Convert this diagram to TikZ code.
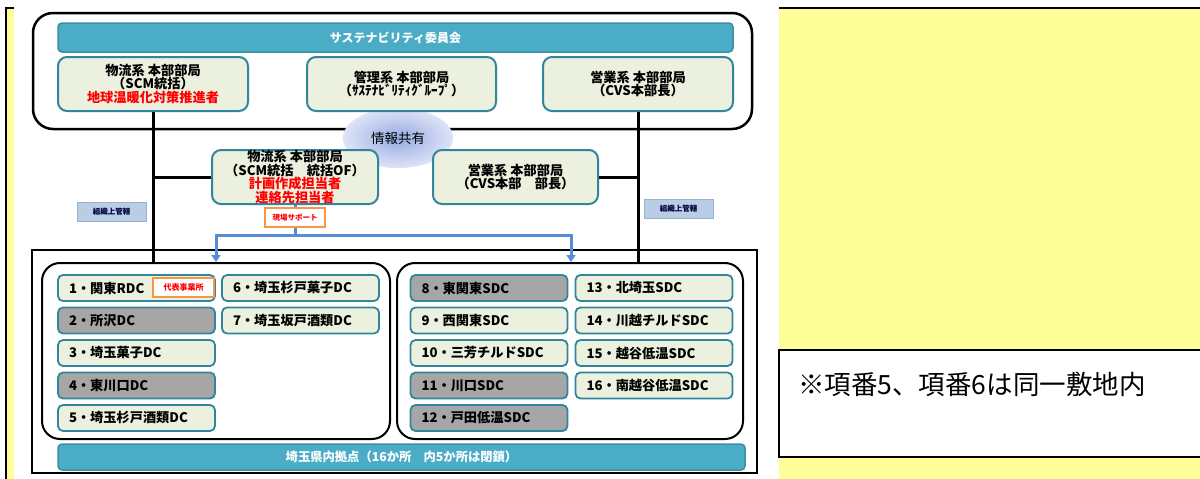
\documentclass[tikz,border=0pt]{standalone}
\usepackage{fontspec}
\setmainfont{Noto Sans CJK JP}
\usetikzlibrary{shapes.geometric,arrows.meta}
\definecolor{barteal}{HTML}{4BACC6}
\definecolor{bartealdk}{HTML}{3A8FA6}
\definecolor{boxfill}{HTML}{EBF1DE}
\definecolor{boxline}{HTML}{31859C}
\definecolor{closedgray}{HTML}{A6A6A6}
\definecolor{suparrow}{HTML}{558ED5}
\definecolor{orgfill}{HTML}{B9CDE5}
\definecolor{orgline}{HTML}{95B3D7}
\definecolor{tagorange}{HTML}{F79646}
\definecolor{noteyellow}{HTML}{FFFF99}
\begin{document}
\begin{tikzpicture}[
x=1pt,y=-1pt,
bar/.style={draw=bartealdk,fill=barteal,line width=1.5pt,rounded corners=4pt,inner sep=0pt,text=white,font=\fontsize{12}{12}\selectfont\bfseries},
dept/.style={draw=boxline,fill=boxfill,line width=2pt,rounded corners=9pt,inner sep=0pt,align=center,minimum height=54pt,font=\fontsize{13.2}{11.8}\selectfont\bfseries},
site/.style={draw=boxline,fill=boxfill,line width=1.8pt,rounded corners=5pt,minimum height=26pt,inner xsep=11pt,inner ysep=0pt,text width=135pt,align=left,font=\fontsize{13.2}{13}\selectfont\bfseries},
closed/.style={site,fill=closedgray},
kanri/.style={draw=orgline,fill=orgfill,line width=1pt,minimum width=69pt,minimum height=19pt,inner sep=0pt,text=black!75!blue,font=\fontsize{7.5}{8}\selectfont\bfseries},
tag/.style={draw=tagorange,fill=white,line width=1.5pt,minimum height=19pt,inner sep=0pt,text=red,font=\fontsize{7.5}{8}\selectfont\bfseries},
group/.style={draw,line width=2pt,rounded corners=18pt,inner sep=0pt},
org/.style={line width=3pt},
sup/.style={draw=suparrow,line width=3pt}
]
\useasboundingbox (0,0) rectangle (1200,479);
% background
\fill[noteyellow] (6,8) rectangle (1200,479);
\draw[line width=1.5pt] (1200,8) -- (6,8) -- (6,479);
\fill[white] (14,0) rectangle (779,479);
\draw[line width=2.5pt,fill=white] (779,350) rectangle (1204,457);
\node[anchor=west,inner sep=0pt,font=\fontsize{26.5}{27}\selectfont] (note) at (798,384) {※項番5、項番6は同一敷地内};

% upper frame
\draw[line width=2.5pt,rounded corners=20pt] (33,13) rectangle (752,129);
% lower frame
\draw[line width=1.5pt] (32,250) rectangle (757,473);
\node[group,minimum width=348pt,minimum height=176pt] (leftgrp) at (216,351) {};
\node[group,minimum width=346pt,minimum height=176pt] (rightgrp) at (570,351) {};

\node[ellipse,minimum width=110pt,minimum height=60pt,inner color={rgb,255:red,150;green,170;blue,225},outer color={rgb,255:red,222;green,228;blue,247},font=\fontsize{13.5}{14}\selectfont] (share) at (398,138) {情報共有};

\node[bar,minimum width=675pt,minimum height=29pt] (iinkai) at (395.5,37.5) {サステナビリティ委員会};
\node[dept,minimum width=190pt] (logitop) at (153,84) {物流系 本部部局\\（SCM統括）\\\textcolor{red}{地球温暖化対策推進者}};
\node[dept,minimum width=189pt] (kanritop) at (401.5,84) {管理系 本部部局\\（ｻｽﾃﾅﾋﾞﾘﾃｨｸﾞﾙｰﾌﾟ）};
\node[dept,minimum width=190pt] (eigyotop) at (638,84) {営業系 本部部局\\（CVS本部長）};
\node[dept,minimum width=166pt] (logimid) at (295,177) {物流系 本部部局\\（SCM統括　統括OF）\\\textcolor{red}{計画作成担当者}\\\textcolor{red}{連絡先担当者}};
\node[dept,minimum width=165pt] (eigyomid) at (515.5,177) {営業系 本部部局\\（CVS本部　部長）};

\draw[org] (logitop.south) -- (logitop.south |- leftgrp.north);
\draw[org] (logimid.west) -- (logimid.west -| logitop.south);
\draw[org] (eigyotop.south) -- (eigyotop.south |- rightgrp.north);
\draw[org] (eigyomid.east) -- (eigyomid.east -| eigyotop.south);
\node[kanri] (kanriL) at (111.5,211.5) {組織上管轄};
\node[kanri] (kanriR) at (678.5,208.5) {組織上管轄};

% support arrows
\coordinate (split) at (295,235);
\coordinate (arrL) at (216,262);
\coordinate (arrR) at (571,262);
\draw[sup] (logimid.south) -- (split);
\draw[sup,-{Triangle[width=9pt,length=7pt]}] (split) -| (arrL);
\draw[sup,-{Triangle[width=9pt,length=7pt]}] (split) -| (arrR);
\node[tag,minimum width=60pt] (genba) at (295,217.5) {現場サポート};

% sites
\node[site] (s1) at (136.5,288) {1・関東RDC};
\node[closed] (s2) at (136.5,320.5) {2・所沢DC};
\node[site] (s3) at (136.5,353) {3・埼玉菓子DC};
\node[closed] (s4) at (136.5,385.5) {4・東川口DC};
\node[site] (s5) at (136.5,418) {5・埼玉杉戸酒類DC};
\node[site] (s6) at (300.5,288) {6・埼玉杉戸菓子DC};
\node[site] (s7) at (300.5,320.5) {7・埼玉坂戸酒類DC};
\node[closed] (s8) at (489,288) {8・東関東SDC};
\node[site] (s9) at (489,320.5) {9・西関東SDC};
\node[site] (s10) at (489,353) {10・三芳チルドSDC};
\node[closed] (s11) at (489,385.5) {11・川口SDC};
\node[closed] (s12) at (489,418) {12・戸田低温SDC};
\node[site] (s13) at (654,288) {13・北埼玉SDC};
\node[site] (s14) at (654,320.5) {14・川越チルドSDC};
\node[site] (s15) at (654,353) {15・越谷低温SDC};
\node[site] (s16) at (654,385.5) {16・南越谷低温SDC};
\node[tag,minimum width=61pt,font=\fontsize{8}{8}\selectfont\bfseries] (rep) at (183.5,287.5) {代表事業所};

\node[bar,minimum width=687pt,minimum height=26pt,font=\fontsize{12.3}{12.5}\selectfont\bfseries] (saitama) at (401.5,457) {埼玉県内拠点（16か所　内5か所は閉鎖）};
\end{tikzpicture}
\end{document}
